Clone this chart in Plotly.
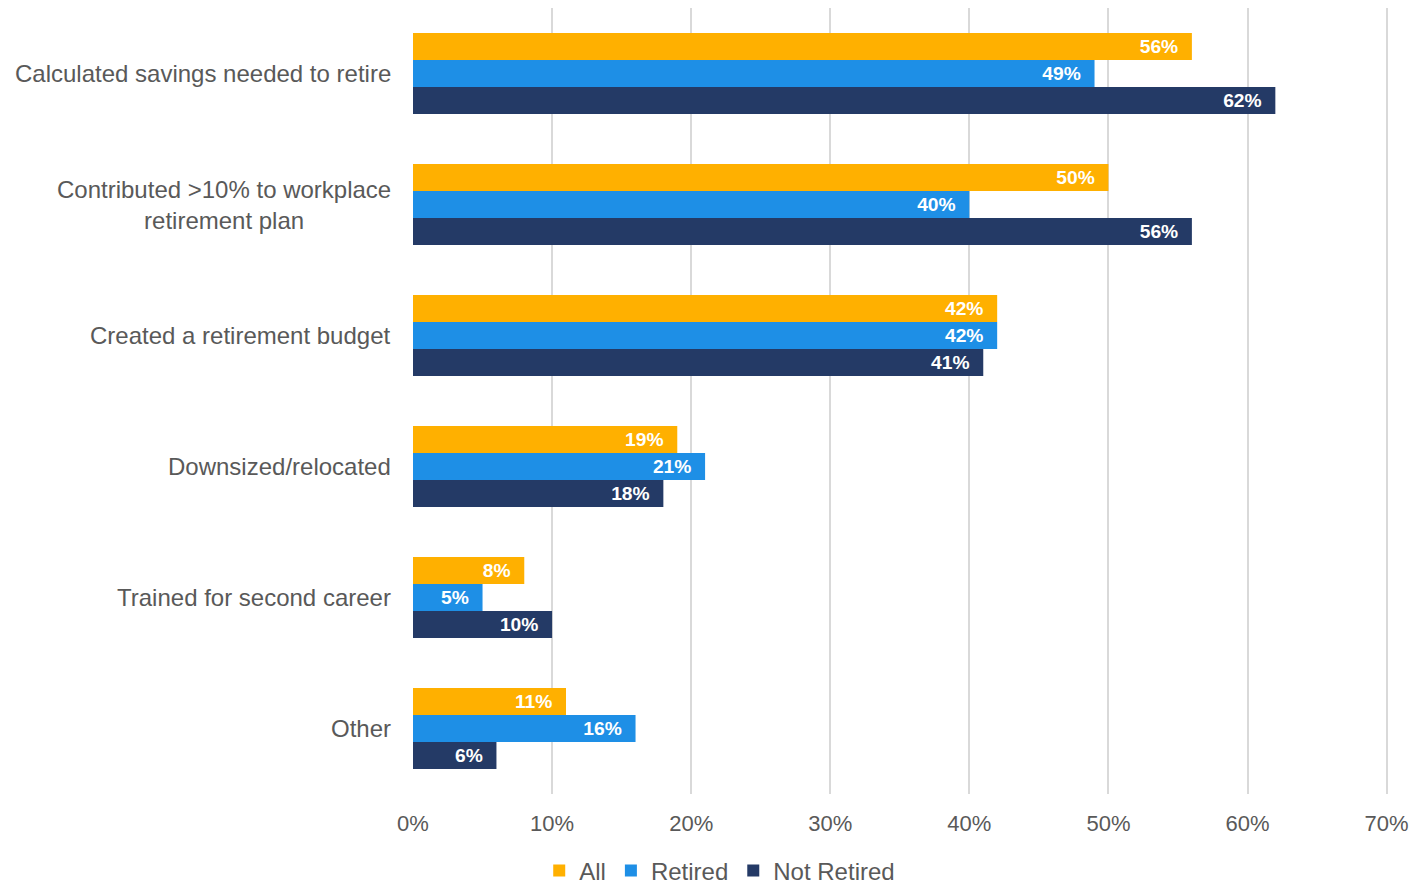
import plotly.graph_objects as go

categories = [
    "Calculated savings needed to retire",
    "Contributed >10% to workplace<br>retirement plan",
    "Created a retirement budget",
    "Downsized/relocated",
    "Trained for second career",
    "Other",
]
series_names = ["All", "Retired", "Not Retired"]
all_vals = [56, 50, 42, 19, 8, 11]
retired_vals = [49, 40, 42, 21, 5, 16]
not_retired_vals = [62, 56, 41, 18, 10, 6]
colors = ["#FFB000", "#1E8FE6", "#243A66"]
tick_vals = [0, 10, 20, 30, 40, 50, 60, 70]
tick_text = ["0%", "10%", "20%", "30%", "40%", "50%", "60%", "70%"]

FONT = "Liberation Sans, Arial, sans-serif"

fig = go.Figure()
for name, vals, col in zip(series_names, [all_vals, retired_vals, not_retired_vals], colors):
    fig.add_trace(go.Bar(
        name=name,
        y=categories,
        x=vals,
        orientation="h",
        marker=dict(color=col, line=dict(width=0)),
        text=[f"{v}%\u00a0\u00a0" for v in vals],
        textposition="inside",
        insidetextanchor="end",
        textangle=0,
        textfont=dict(family=FONT, size=21, color="white", weight="bold"),
        cliponaxis=False,
    ))

for cat in categories:
    fig.add_annotation(
        x=0, xref="paper", xanchor="right", xshift=-20,
        y=cat, yref="y", yanchor="middle",
        text=cat, showarrow=False, align="center",
        font=dict(family=FONT, size=24, color="#595959"),
    )

fig.update_layout(
    width=1414, height=885,
    margin=dict(l=413, r=26, t=8, b=91, autoexpand=False),
    paper_bgcolor="white", plot_bgcolor="white",
    barmode="group",
    bargap=0.38, bargroupgap=0,
    font=dict(family=FONT, color="#595959"),
    xaxis=dict(
        range=[0, 70.1], tickvals=tick_vals, ticktext=tick_text,
        showgrid=True, gridcolor="#D9D9D9", gridwidth=1.5,
        zeroline=False, showline=False,
        tickfont=dict(size=22, color="#595959"),
        ticklabelstandoff=14,
        automargin=False,
        fixedrange=True,
    ),
    yaxis=dict(
        autorange="reversed", showticklabels=False, showgrid=False,
        zeroline=False, showline=False, automargin=False,
        fixedrange=True,
    ),
    showlegend=True,
    legend=dict(
        orientation="h", xref="container", yref="container",
        x=0.509, xanchor="center", y=0.016, yanchor="middle",
        font=dict(size=24, color="#595959"),
        itemwidth=30, traceorder="normal",
    ),
)

fig.write_html(
    "out.html",
    config={"displayModeBar": False},
    post_script="document.body.style.margin='0';document.body.style.overflow='hidden';",
)
